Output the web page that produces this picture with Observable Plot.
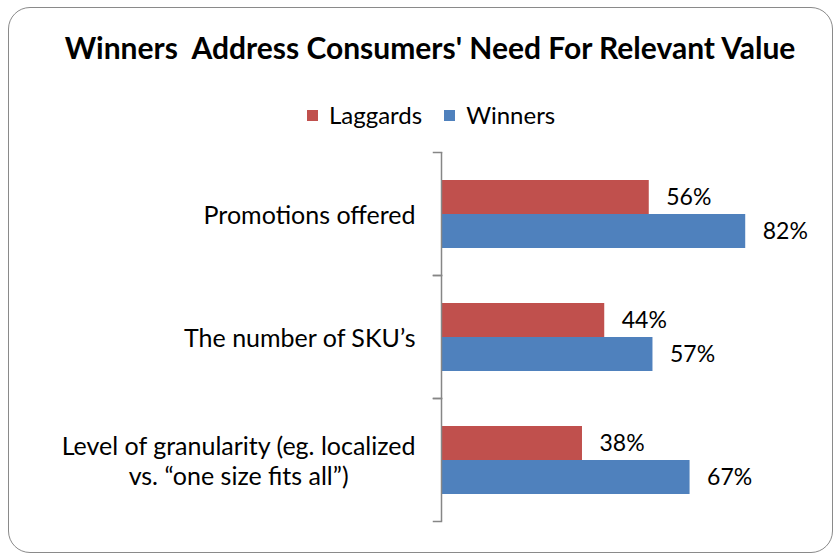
<!DOCTYPE html>
<html>
<head>
<meta charset="utf-8">
<script src="https://cdn.jsdelivr.net/npm/d3@7"></script>
<script src="https://cdn.jsdelivr.net/npm/@observablehq/plot@0.6"></script>
<style>
  html, body { margin: 0; padding: 0; background: #fff; }
  #wrap { position: relative; width: 835px; height: 558px; overflow: hidden; font-family: Lato, "Open Sans", sans-serif; }
  #border { position: absolute; left: 8px; top: 7px; width: 825px; height: 546px; border: 1.5px solid #8a8a8a; border-radius: 22px; box-sizing: border-box; }
  #title { position: absolute; left: 0; width: 860px; top: 30px; text-align: center; font-weight: bold; font-size: 30px; color: #000; line-height: 34px; }
  #legend { position: absolute; left: 307px; top: 101px; font-size: 24px; color: #000; display: flex; align-items: center; line-height: 28px; }
  #legend .item { display: flex; align-items: center; margin-right: 22px; }
  #legend .sw { width: 11px; height: 11px; margin-right: 11px; }
  #chart { position: absolute; left: 0; top: 0; }
</style>
</head>
<body>
<div id="wrap">
  <div id="border"></div>
  <div id="title"></div>
  <div id="legend"></div>
  <div id="chart"></div>
</div>
<script>
const titleText = "Winners\u00A0 Address Consumers' Need For Relevant Value";
const categories = [
  "Promotions offered",
  "The number of SKU\u2019s",
  "Level of granularity (eg. localized\nvs. \u201Cone size fits all\u201D)"
];
const series = ["Laggards", "Winners"];
const laggards = [0.56, 0.44, 0.38];
const winners = [0.82, 0.57, 0.67];
const colors = ["#C0504D", "#4F81BD"];

const data = [];
categories.forEach((c, i) => {
  data.push({category: c, series: "Laggards", value: laggards[i]});
  data.push({category: c, series: "Winners", value: winners[i]});
});

document.getElementById("title").textContent = titleText;
const legend = document.getElementById("legend");
series.forEach((s, i) => {
  const item = document.createElement("div");
  item.className = "item";
  const sw = document.createElement("div");
  sw.className = "sw";
  sw.style.background = colors[i];
  const t = document.createElement("span");
  t.textContent = s;
  item.appendChild(sw);
  item.appendChild(t);
  legend.appendChild(item);
});

const axisColor = "#868686";
const W = 835, H = 558, ML = 441, MR = 23;
const plotW = W - ML - MR;

const chart = Plot.plot({
  width: W,
  height: H,
  marginTop: 151,
  marginBottom: 36,
  marginLeft: ML,
  marginRight: MR,
  style: {background: "transparent", fontFamily: "Lato, 'Open Sans', sans-serif", fontSize: "20px", color: "#000"},
  x: {domain: [0, 1], axis: null},
  y: {domain: series, paddingInner: 0, paddingOuter: 0.771, axis: null},
  fy: {domain: categories, padding: 0, label: null},
  color: {domain: series, range: colors},
  marks: [
    Plot.barX(data, {x: "value", y: "series", fy: "category", fill: "series"}),
    Plot.text(data, {x: "value", y: "series", fy: "category", text: d => Math.round(d.value * 100) + "%", textAnchor: "start", dx: 17, fontSize: 23, fill: "#000"}),
    Plot.ruleX([0], {stroke: axisColor, strokeWidth: 1.5}),
    Plot.frame({anchor: "top", stroke: axisColor, strokeWidth: 1.5, insetLeft: -8, insetRight: plotW}),
    Plot.frame({anchor: "bottom", stroke: axisColor, strokeWidth: 1.5, insetLeft: -8, insetRight: plotW}),
    Plot.axisFy({anchor: "left", tickSize: 0, tickPadding: 26, fontSize: 25, lineHeight: 1.2, label: null, lineWidth: Infinity, fill: "#000"})
  ]
});
document.getElementById("chart").appendChild(chart);

// center multi-line category labels within their block (Excel style)
chart.querySelectorAll("text").forEach(t => {
  const spans = t.querySelectorAll("tspan");
  if (spans.length > 1) {
    const w = t.getBBox().width;
    t.setAttribute("text-anchor", "middle");
    spans.forEach(s => s.setAttribute("x", -w / 2));
  }
});
</script>
</body>
</html>
